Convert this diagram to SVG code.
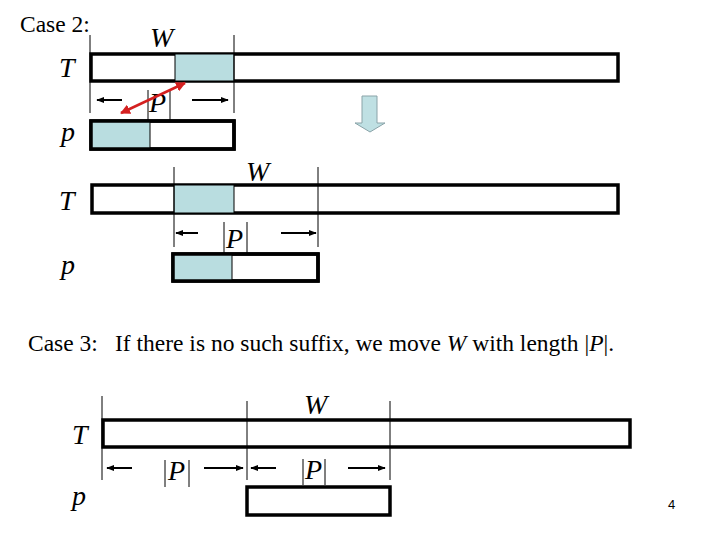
<svg xmlns="http://www.w3.org/2000/svg" width="720" height="540" viewBox="0 0 720 540">
<style>
.lbl{font-family:"Liberation Serif",serif;font-size:23.5px;fill:#000}
.it{font-family:"Liberation Serif",serif;font-style:italic;font-size:28px;fill:#000}
.box{fill:#fff;stroke:#000;stroke-width:3.5}
.frame{fill:none;stroke:#000;stroke-width:3.5}
.teal{fill:#b9dde0;stroke:#000;stroke-width:1}
.thin{stroke:#000;stroke-width:1;fill:none}
.arr{stroke:#000;stroke-width:2;fill:none;marker-end:url(#ah)}
</style>
<defs>
<marker id="ah" viewBox="0 0 10 10" refX="9" refY="5" markerWidth="4" markerHeight="4" orient="auto" markerUnits="strokeWidth">
<path d="M0,1 L10,5 L0,9 Z" fill="#000"/>
</marker>
<marker id="rh" viewBox="0 0 10 10" refX="9" refY="5" markerWidth="4" markerHeight="4" orient="auto-start-reverse" markerUnits="strokeWidth">
<path d="M0,0 L10,5 L0,10 Z" fill="#d42020"/>
</marker>
</defs>
<rect width="720" height="540" fill="#fff"/>
<text class="lbl" x="20" y="32">Case 2:</text>
<text class="lbl" x="28" y="351">Case 3:</text>
<text class="lbl" x="115" y="351" font-size="23.4">If there is no such suffix, we move <tspan font-style="italic">W</tspan> with length |<tspan font-style="italic">P</tspan>|.</text>
<text x="668" y="509" font-family="Liberation Sans,sans-serif" font-size="13">4</text>

<g id="case2-top">
<text class="it" x="150" y="47">W</text>
<text class="it" x="59" y="77">T</text>
<rect class="box" x="91" y="54" width="527" height="27"/>
<rect class="teal" x="175" y="54" width="59" height="27"/>
<text class="it" x="61" y="141">p</text>
<rect class="box" x="91" y="121" width="143" height="28"/>
<rect class="teal" x="91" y="121" width="59" height="28"/>
<rect class="frame" x="91" y="121" width="143" height="28"/>
<text class="it" x="149" y="112">P</text>
</g>
<g id="case2-bottom">
<text class="it" x="246" y="181">W</text>
<text class="it" x="59" y="210">T</text>
<rect class="box" x="92" y="185" width="526" height="28"/>
<rect class="teal" x="174" y="185" width="60" height="28"/>
<text class="it" x="61" y="274">p</text>
<rect class="box" x="173" y="254" width="145" height="27"/>
<rect class="teal" x="173" y="254" width="59" height="27"/>
<rect class="frame" x="173" y="254" width="145" height="27"/>
<text class="it" x="226" y="248">P</text>
</g>
<g id="case3">
<text class="it" x="304" y="414">W</text>
<text class="it" x="72" y="444">T</text>
<rect class="box" x="103" y="420" width="527" height="27"/>
<text class="it" x="72" y="505">p</text>
<rect class="box" x="247" y="487" width="143" height="28"/>
<text class="it" x="168" y="480">P</text>
<text class="it" x="305" y="479">P</text>
</g>
<g id="arrow-down">
<path d="M362,96 H377 V123 H385 L370,132 L355,123 H362 Z" fill="#bfe0e3" stroke="#8aa3a8" stroke-width="1"/>
</g>
<g id="connectors">
<line class="thin" x1="90" y1="35" x2="90" y2="113"/>
<line class="thin" x1="234" y1="35" x2="234" y2="113"/>
<line class="thin" x1="148" y1="90" x2="148" y2="120"/>
<line class="thin" x1="170" y1="90" x2="170" y2="120"/>
<line class="arr" x1="122" y1="100" x2="97" y2="100"/>
<line class="arr" x1="192" y1="100" x2="228" y2="100"/>
<line x1="185" y1="83" x2="121" y2="113" stroke="#d42020" stroke-width="2.5" marker-start="url(#rh)" marker-end="url(#rh)"/>
<line class="thin" x1="174" y1="167" x2="174" y2="247"/>
<line class="thin" x1="318" y1="167" x2="318" y2="247"/>
<line class="thin" x1="224" y1="222" x2="224" y2="253"/>
<line class="thin" x1="247" y1="222" x2="247" y2="253"/>
<line class="arr" x1="198" y1="233" x2="176" y2="233"/>
<line class="arr" x1="281" y1="233" x2="316" y2="233"/>
<line class="thin" x1="102" y1="396" x2="102" y2="480"/>
<line class="thin" x1="247" y1="401" x2="247" y2="480"/>
<line class="thin" x1="390" y1="401" x2="390" y2="480"/>
<line class="thin" x1="165" y1="460" x2="165" y2="487"/>
<line class="thin" x1="189" y1="460" x2="189" y2="487"/>
<line class="thin" x1="303" y1="459" x2="303" y2="485"/>
<line class="thin" x1="325" y1="459" x2="325" y2="485"/>
<line class="arr" x1="132" y1="468" x2="107" y2="468"/>
<line class="arr" x1="204" y1="468" x2="243" y2="468"/>
<line class="arr" x1="276" y1="468" x2="251" y2="468"/>
<line class="arr" x1="348" y1="468" x2="385" y2="468"/>
</g>
</svg>
